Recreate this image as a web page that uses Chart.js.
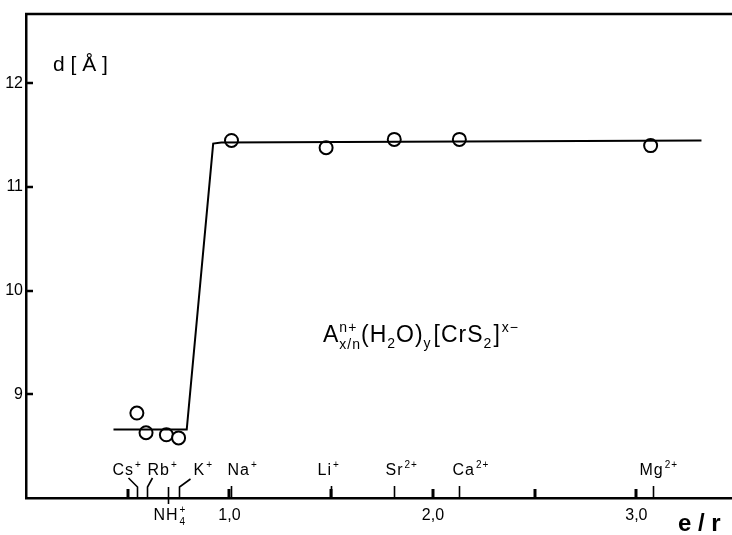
<!DOCTYPE html>
<html>
<head>
<meta charset="utf-8">
<script src="https://cdn.jsdelivr.net/npm/chart.js@4.4.1/dist/chart.umd.min.js"></script>
<style>
html,body{margin:0;padding:0;background:#fff;}
#wrap{width:732px;height:535px;}
</style>
</head>
<body>
<div id="wrap"><canvas id="c" width="732" height="535"></canvas></div>
<script>
// ---- data ----
const ionNames   = ['Cs', 'Rb', 'NH', 'K', 'Na', 'Li', 'Sr', 'Ca', 'Mg'];
const ionCharges = ['+', '+', '+', '+', '+', '+', '2+', '2+', '2+'];
const ionER      = [0.545, 0.595, 0.70, 0.75, 1.01, 1.50, 1.81, 2.13, 3.08];
const pointER    = [0.545, 0.59, 0.69, 0.75, 1.01, 1.475, 1.81, 2.13, 3.07];
const dValues    = [8.82, 8.63, 8.61, 8.58, 11.45, 11.38, 11.46, 11.46, 11.40];
const curveER    = [0.43, 0.79, 0.92, 0.96, 3.32];
const curveD     = [8.66, 8.66, 11.42, 11.43, 11.45];
const yTickValues = [9, 10, 11, 12];
const xTickValues = [1, 2, 3];
const xTickLabels = ['1,0', '2,0', '3,0'];
const xMinorTicks = [0.5, 1.0, 1.5, 2.0, 2.5, 3.0];

// ---- style ----
const FONT = '"Liberation Sans", Arial, sans-serif';
const ionLabelStyle = {
  Cs: {dx: -25, leader: [[0, -11], [-9, -20]]},
  Rb: {dx: 0,   leader: [[0, -11], [5, -20]]},
  NH: {dx: -15, below: true},
  K:  {dx: 14,  leader: [[0, -11], [11, -19]]},
  Na: {dx: -4},
  Li: {dx: -14},
  Sr: {dx: -9},
  Ca: {dx: -7},
  Mg: {dx: -14}
};

const curve = curveER.map((x, i) => ({x, y: curveD[i]}));
const pts = pointER.map((x, i) => ({x, y: dValues[i]}));

function drawRich(ctx, x, y, segs, base, ls) {
  let cx = x;
  ctx.letterSpacing = (ls || 0) + 'px';
  for (const s of segs) {
    const small = Math.round(base * 0.62) + 'px ' + FONT;
    if (s.k === 'n') {
      ctx.font = base + 'px ' + FONT;
      ctx.fillText(s.t, cx, y);
      cx += ctx.measureText(s.t).width + (s.gap || 0);
    } else if (s.k === 'sup') {
      ctx.font = small;
      ctx.fillText(s.t, cx, y - base * 0.45);
      cx += ctx.measureText(s.t).width + (s.gap || 0);
    } else if (s.k === 'sub') {
      ctx.font = small;
      ctx.fillText(s.t, cx, y + base * 0.28);
      cx += ctx.measureText(s.t).width + (s.gap || 0);
    } else if (s.k === 'supsub') {
      ctx.font = small;
      ctx.fillText(s.s, cx, y - base * 0.45);
      const w1 = ctx.measureText(s.s).width;
      ctx.fillText(s.b, cx, y + base * 0.3);
      const w2 = ctx.measureText(s.b).width;
      cx += Math.max(w1, w2) + (s.gap || 0);
    }
  }
  ctx.letterSpacing = '0px';
  return cx;
}

const decor = {
  id: 'decor',
  afterDraw(chart) {
    const ctx = chart.ctx;
    const xs = chart.scales.x, ys = chart.scales.y;
    const ca = chart.chartArea;
    ctx.save();
    ctx.strokeStyle = '#000';
    ctx.fillStyle = '#000';
    ctx.lineCap = 'butt';
    // top frame line
    ctx.lineWidth = 2.5;
    ctx.beginPath();
    ctx.moveTo(ca.left - 1, ca.top);
    ctx.lineTo(chart.width, ca.top);
    ctx.stroke();
    // y tick marks (inside)
    for (const v of yTickValues) {
      const py = Math.round(ys.getPixelForValue(v));
      ctx.beginPath();
      ctx.moveTo(ca.left, py);
      ctx.lineTo(ca.left + 7, py);
      ctx.stroke();
    }
    // x minor tick marks (inside)
    ctx.lineWidth = 3;
    for (const v of xMinorTicks) {
      const px = Math.round(xs.getPixelForValue(v));
      ctx.beginPath();
      ctx.moveTo(px, ca.bottom);
      ctx.lineTo(px, ca.bottom - 9);
      ctx.stroke();
    }
    // ion ticks and labels
    ctx.lineWidth = 1.6;
    ctx.textBaseline = 'alphabetic';
    ctx.textAlign = 'left';
    ionNames.forEach((nm, i) => {
      const px = Math.round(xs.getPixelForValue(ionER[i])) + 0.5;
      const st = ionLabelStyle[nm];
      const by = ca.bottom;
      ctx.beginPath();
      if (st.below) {
        ctx.moveTo(px, by - 11);
        ctx.lineTo(px, by + 6);
      } else if (st.leader) {
        ctx.moveTo(px, by);
        for (const p of st.leader) ctx.lineTo(px + p[0], by + p[1]);
      } else {
        ctx.moveTo(px, by);
        ctx.lineTo(px, by - 12);
      }
      ctx.stroke();
      const base = 16;
      let segs;
      if (nm === 'NH') {
        segs = [{t: 'NH', k: 'n', gap: 1}, {k: 'supsub', s: '+', b: '4'}];
      } else {
        segs = [{t: nm, k: 'n', gap: 1}, {t: ionCharges[i], k: 'sup'}];
      }
      const ly = st.below ? by + 22 : by - 23;
      drawRich(ctx, px + st.dx, ly, segs, base, 1);
    });
    // axis titles
    ctx.font = '21px ' + FONT;
    ctx.fillText('d [ Å ]', 53, 71);
    ctx.font = 'bold 24px ' + FONT;
    ctx.fillText('e / r', 678, 531);
    // formula
    drawRich(ctx, 323, 342, [
      {t: 'A', k: 'n'},
      {k: 'supsub', s: 'n+', b: 'x/n'},
      {t: '(H', k: 'n'},
      {t: '2', k: 'sub'},
      {t: 'O)', k: 'n'},
      {t: 'y', k: 'sub', gap: 2},
      {t: '[CrS', k: 'n'},
      {t: '2', k: 'sub', gap: 1},
      {t: ']', k: 'n', gap: 1},
      {t: 'x−', k: 'sup'}
    ], 23, 1);
    ctx.restore();
  }
};

new Chart(document.getElementById('c'), {
  type: 'scatter',
  data: {
    datasets: [
      {
        data: curve,
        showLine: true,
        borderColor: '#000',
        borderWidth: 2,
        pointRadius: 0,
        tension: 0
      },
      {
        data: pts,
        showLine: false,
        pointRadius: 6.5,
        pointBorderWidth: 2,
        pointBorderColor: '#000',
        pointBackgroundColor: '#fff'
      }
    ]
  },
  plugins: [decor],
  options: {
    responsive: false,
    animation: false,
    events: [],
    layout: {autoPadding: false, padding: {left: 0, top: 14, right: 0, bottom: 0}},
    plugins: {legend: {display: false}, tooltip: {enabled: false}},
    scales: {
      x: {
        type: 'linear',
        min: 0, max: 3.47,
        grid: {display: false, drawTicks: false},
        border: {display: true, color: '#000', width: 2.5},
        afterBuildTicks: s => { s.ticks = xTickValues.map(v => ({value: v})); },
        afterFit: s => { s.height = 37; s.paddingLeft = 0; s.paddingRight = 0; },
        ticks: {
          padding: 8,
          color: '#000',
          font: {family: FONT, size: 16},
          maxRotation: 0,
          callback: (v) => xTickLabels[xTickValues.indexOf(v)]
        }
      },
      y: {
        type: 'linear',
        min: 8, max: 12.67,
        grid: {display: false, drawTicks: false},
        border: {display: true, color: '#000', width: 2.5},
        afterBuildTicks: s => { s.ticks = yTickValues.map(v => ({value: v})); },
        afterFit: s => { s.width = 26; s.paddingTop = 0; s.paddingBottom = 0; },
        ticks: {
          padding: 3,
          color: '#000',
          font: {family: FONT, size: 16},
          callback: v => String(v)
        }
      }
    }
  }
});
</script>
</body>
</html>
